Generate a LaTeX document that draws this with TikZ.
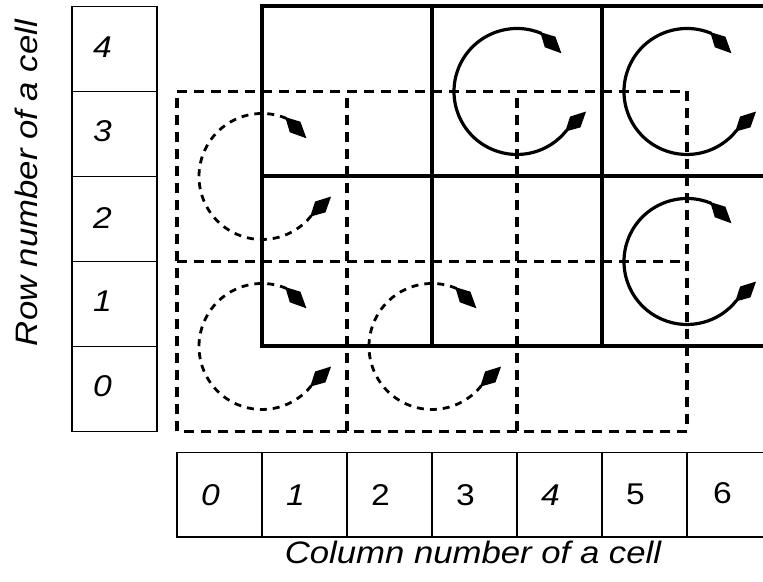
\documentclass[tikz,border=0pt]{standalone}
\usepackage{fontspec}
\setmainfont{Liberation Sans}
\newcommand{\stx}[1]{\scalebox{1.12}[1]{#1}}
\begin{document}
\begin{tikzpicture}[x=1pt,y=1pt,
  lblbox/.style={draw, line width=1.6pt, minimum width=85pt, minimum height=85pt, inner sep=0pt,
                 font=\fontsize{30}{30}\selectfont},
  rowbox/.style={lblbox},
  colbox/.style={lblbox, minimum height=84.5pt},
  title/.style={font=\fontsize{31}{31}\selectfont\itshape, inner sep=0pt},
  solidgrid/.style={line width=4pt},
  dashgrid/.style={line width=3.6pt, dash pattern=on 10pt off 7pt},
  rotline/.style={line width=3.2pt},
  drotline/.style={line width=2.8pt, dash pattern=on 7pt off 6pt},
  rotsym/.pic={
    \draw[pic actions] (67:63) arc[start angle=67, end angle=322, radius=63];
    \fill[shift={(67:63)}, rotate=-45] (-2,0) -- (12,7.5) -- (28,0) -- (12,-7.5) -- cycle;
    \fill[shift={(322:63)}, rotate=44] (-2,0) -- (12,7.5) -- (27,0) -- (12,-7.5) -- cycle;
  }
]
\useasboundingbox (0,0) rectangle (763,581);
\clip (0,0) rectangle (763,581);

% row labels
\node[rowbox] (r4) at (114.5,532) {\raisebox{3pt}{\kern-24pt\stx{\itshape 4}}};
\node[rowbox] (r3) at (114.5,447) {\raisebox{5pt}{\kern-24pt\stx{\itshape 3}}};
\node[rowbox] (r2) at (114.5,362) {\raisebox{1pt}{\kern-24pt\stx{\itshape 2}}};
\node[rowbox] (r1) at (114.5,277) {\raisebox{6pt}{\kern-24pt\stx{\itshape 1}}};
\node[rowbox] (r0) at (114.5,192) {\raisebox{5pt}{\kern-24pt\stx{\itshape 0}}};

% column labels
\node[colbox] (c0) at (219.5,86.25) {\kern-18pt\stx{\itshape 0}};
\node[colbox] (c1) at (304.5,86.25) {\kern-18pt\stx{\itshape 1}};
\node[colbox] (c2) at (389.5,86.25) {\kern-18pt\stx{2}};
\node[colbox] (c3) at (474.5,86.25) {\kern-18pt\stx{3}};
\node[colbox] (c4) at (559.5,86.25) {\kern-18pt\stx{\itshape 4}};
\node[colbox] (c5) at (644.5,86.25) {\kern-18pt\stx{5}};
\node[colbox] (c6) at (729.5,86.25) {\raisebox{4pt}{\kern-14pt\stx{6}}};

% titles
\node[title, anchor=base] (coltitle) at (473,17) {\stx{Column number of a cell}};
\node[title, rotate=90, anchor=base] (rowtitle) at (38,398) {\stx{Row number of a cell}};

% dashed grid
\draw[dashgrid] (177,149.5) rectangle (687,489.5);
\draw[dashgrid] (347,149.5) -- (347,489.5);
\draw[dashgrid] (517,149.5) -- (517,489.5);
\draw[dashgrid] (177,319.5) -- (687,319.5);

% solid grid
\draw[solidgrid] (262,234.5) rectangle (772,574.5);
\draw[solidgrid] (432,234.5) -- (432,574.5);
\draw[solidgrid] (602,234.5) -- (602,574.5);
\draw[solidgrid] (262,404.5) -- (772,404.5);

% rotation symbols (solid)
\pic[rotline] at (517,489.5) {rotsym};
\pic[rotline] at (687,489.5) {rotsym};
\pic[rotline] at (687,319.5) {rotsym};

% rotation symbols (dashed)
\pic[drotline] at (262,404.5) {rotsym};
\pic[drotline] at (262,234.5) {rotsym};
\pic[drotline] at (432,234.5) {rotsym};
\end{tikzpicture}
\end{document}
